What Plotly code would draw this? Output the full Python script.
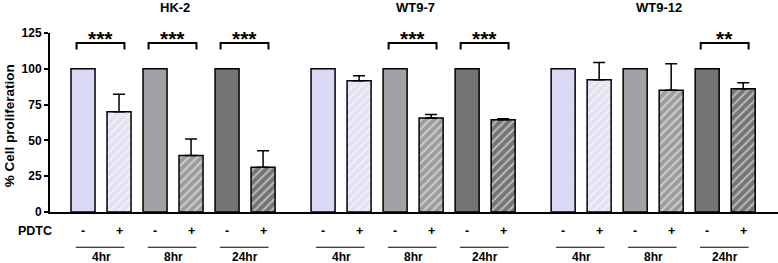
import plotly.graph_objects as go

groups = ["HK-2", "WT9-7", "WT9-12"]
times = ["4hr", "8hr", "24hr"]
control = {"4hr": [100, 100, 100], "8hr": [100, 100, 100], "24hr": [100, 100, 100]}
treated = {"4hr": [70, 91.7, 92.4], "8hr": [39.5, 65.6, 85], "24hr": [31.2, 64.4, 86]}
treated_err = {"4hr": [12.2, 3.5, 12], "8hr": [11.5, 2.4, 18.5], "24hr": [11.6, 0.8, 4.3]}
sig = [["***", "***", "***"], ["", "***", "***"], ["", "", "**"]]
yticks = [0, 25, 50, 75, 100, 125]

FONT = "Liberation Sans, Arial, sans-serif"
group_step = 6 + 2 / 3  # slot spacing between groups (in bar units)

ctrl_style = {
    "4hr": dict(color="#dcdcf6", pattern=dict(shape=".", fgcolor="#c8c8ec", size=3, solidity=0.3, fillmode="overlay")),
    "8hr": dict(color="#a2a2a6", pattern=dict(shape="")),
    "24hr": dict(color="#747474", pattern=dict(shape="")),
}
trt_style = {
    "4hr": dict(color="#e2e2f2", pattern=dict(shape="/", fgcolor="#ffffff", size=6, solidity=0.35, fillmode="overlay")),
    "8hr": dict(color="#9c9c9c", pattern=dict(shape="/", fgcolor="#ffffff", size=6, solidity=0.35, fillmode="overlay")),
    "24hr": dict(color="#747474", pattern=dict(shape="/", fgcolor="#ffffff", size=6, solidity=0.35, fillmode="overlay")),
}

fig = go.Figure()

def xpos(g, t, treated_flag):
    return g * group_step + 2 * t + (1 if treated_flag else 0)

for ti, t in enumerate(times):
    xs_c = [xpos(g, ti, False) for g in range(3)]
    xs_t = [xpos(g, ti, True) for g in range(3)]
    fig.add_trace(go.Bar(
        x=xs_c, y=control[t], width=0.667,
        marker=dict(color=ctrl_style[t]["color"], pattern=ctrl_style[t]["pattern"],
                    line=dict(color="black", width=1.5)),
        showlegend=False))
    fig.add_trace(go.Bar(
        x=xs_t, y=treated[t], width=0.667,
        marker=dict(color=trt_style[t]["color"], pattern=trt_style[t]["pattern"],
                    line=dict(color="black", width=1.5)),
        error_y=dict(type="data", array=treated_err[t], arrayminus=[0, 0, 0], symmetric=False,
                     color="black", thickness=1.5, width=6),
        showlegend=False))

shapes = []
annotations = []
for g in range(3):
    for ti, t in enumerate(times):
        xc = xpos(g, ti, False)
        xt = xpos(g, ti, True)
        # PDTC -/+ labels
        for xx, s in ((xc, "-"), (xt, "+")):
            annotations.append(dict(x=xx, y=-0.105, xref="x", yref="paper", text=s, showarrow=False,
                                    font=dict(family=FONT, size=12.5, color="black", weight="bold"),
                                    yanchor="middle"))
        # underline
        shapes.append(dict(type="line", xref="x", yref="paper", x0=xc - 0.2, x1=xt + 0.15,
                           y0=-0.197, y1=-0.197, line=dict(color="black", width=1.2)))
        annotations.append(dict(x=(xc + xt) / 2, y=-0.25, xref="x", yref="paper", text=t, showarrow=False,
                                font=dict(family=FONT, size=12, color="black", weight="bold"),
                                yanchor="middle"))
        # significance bracket
        if sig[g][ti]:
            x0, x1 = xc - 0.18, xt + 0.15
            shapes.append(dict(type="path", xref="x", yref="y",
                               path=f"M {x0} 113.5 L {x0} 118 L {x1} 118 L {x1} 113.5",
                               line=dict(color="black", width=2)))
            annotations.append(dict(x=(x0 + x1) / 2, y=121, xref="x", yref="y", text=sig[g][ti],
                                    showarrow=False, font=dict(family=FONT, size=21, color="black", weight="bold"),
                                    yanchor="middle"))
    # group title
    xg = (xpos(g, 0, False) + xpos(g, 2, True)) / 2
    annotations.append(dict(x=xg, y=1.14, xref="x", yref="paper", text=groups[g], showarrow=False,
                            xshift=(6 if g == 2 else 2),
                            font=dict(family=FONT, size=13, color="black", weight="bold"), yanchor="middle"))

annotations.append(dict(x=-0.021, y=-0.105, xref="paper", yref="paper", text="PDTC", showarrow=False,
                        font=dict(family=FONT, size=12.5, color="black", weight="bold"),
                        xanchor="center", yanchor="middle"))
annotations.append(dict(x=-0.056, y=0.48, xref="paper", yref="paper", text="% Cell proliferation",
                        showarrow=False, textangle=-90,
                        font=dict(family=FONT, size=13.5, color="black", weight="bold"),
                        xanchor="center", yanchor="middle"))

fig.update_layout(
    width=778, height=263,
    margin=dict(l=50, r=0, t=33, b=51),
    paper_bgcolor="white", plot_bgcolor="white",
    barmode="overlay",
    shapes=shapes, annotations=annotations,
    xaxis=dict(range=[-0.917, 19.3], showgrid=False, zeroline=False, showticklabels=False,
               showline=True, linecolor="black", linewidth=2, ticks=""),
    yaxis=dict(range=[0, 125], tickvals=yticks, showgrid=False, zeroline=False,
               showline=True, linecolor="black", linewidth=2, ticks="outside", ticklen=4,
               tickwidth=1.5, tickcolor="black",
               tickfont=dict(family=FONT, size=12, color="black", weight="bold")),
)

fig.write_html("out.html", config={"displayModeBar": False},
               post_script="document.body.style.margin='0px';document.body.style.overflow='hidden';")
